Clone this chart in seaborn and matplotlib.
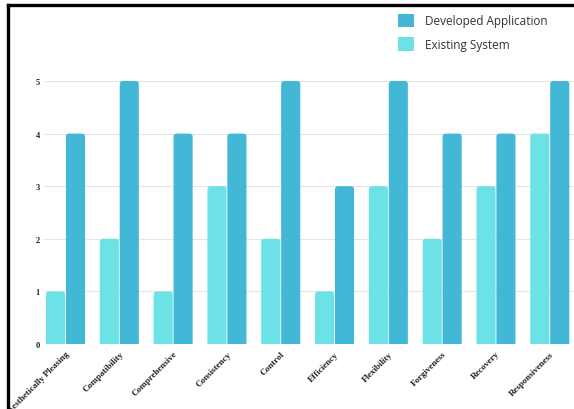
import matplotlib
matplotlib.use("Agg")
import matplotlib.pyplot as plt
import seaborn as sns
import pandas as pd
from matplotlib.patches import Patch, FancyBboxPatch
from matplotlib.lines import Line2D

categories = ["Aesthetically Pleasing", "Compatibility", "Comprehensive", "Consistency",
              "Control", "Efficiency", "Flexibility", "Forgiveness", "Recovery", "Responsiveness"]
existing = [1, 2, 1, 3, 2, 1, 3, 2, 3, 4]
developed = [4, 5, 4, 4, 5, 3, 5, 4, 4, 5]
series_names = ["Existing System", "Developed Application"]
yticks = [0, 1, 2, 3, 4, 5]

col_dev = "#42b7d6"
col_exi = "#6ce2e6"

df = pd.DataFrame({
    "cat": categories * 2,
    "val": existing + developed,
    "series": [series_names[0]] * len(categories) + [series_names[1]] * len(categories),
})

sns.set_theme(style="white")
fig = plt.figure(figsize=(5.74, 4.10), dpi=100)
ax = fig.add_axes([44 / 574, 1 - 345 / 410, 1 - 44 / 574, (345 - 82) / 410])

sns.barplot(data=df, x="cat", y="val", hue="series", hue_order=series_names,
            palette=[col_exi, col_dev], width=0.74, gap=0.04, ax=ax,
            legend=False, saturation=1, edgecolor="none")

ax.set_xlim(-0.4, 9.45)
ax.set_ylim(0, 5)

# round the bar tops
xpp = 9.85 / 530
ypp = 5 / 263
for p in list(ax.patches):
    x, w, h = p.get_x(), p.get_width(), p.get_height()
    fc = p.get_facecolor()
    p.set_visible(False)
    fb = FancyBboxPatch((x, -0.2), w, h + 0.2,
                        boxstyle=f"round,pad=0,rounding_size={3 * xpp}",
                        mutation_aspect=ypp / xpp, facecolor=fc, edgecolor="none",
                        zorder=2)
    ax.add_patch(fb)

ax.set_yticks(yticks)
ax.yaxis.grid(True, color="#e4e4e4", linewidth=0.8)
ax.set_axisbelow(True)
for s in ax.spines.values():
    s.set_visible(False)
ax.set_xlabel("")
ax.set_ylabel("")
ax.tick_params(axis="both", length=0)
ax.tick_params(axis="y", pad=3)
ax.set_yticklabels([str(t) for t in yticks], fontfamily="Liberation Serif",
                   fontweight="bold", fontsize=6, color="#222222")
ax.set_xticks(range(len(categories)))
ax.set_xticklabels(categories, rotation=45, ha="right", rotation_mode="anchor",
                   fontfamily="Liberation Serif", fontweight="bold", fontsize=6.5,
                   color="#222222")
ax.tick_params(axis="x", pad=4)

handles = [Patch(facecolor=col_dev, edgecolor="none"), Patch(facecolor=col_exi, edgecolor="none")]
leg = fig.legend(handles, ["Developed Application", "Existing System"],
                 loc="upper left", bbox_to_anchor=(387 / 574, 1 - 4 / 410),
                 frameon=False, prop={"family": "Open Sans", "size": 8.5},
                 handlelength=1.4, handleheight=1.4, labelspacing=0.85, handletextpad=0.9)
for t in leg.get_texts():
    t.set_color("#333333")

# black frame lines (left and top)
fig.add_artist(Line2D([8 / 574, 8 / 574], [0, 1 - 6 / 410], transform=fig.transFigure,
                      color="black", linewidth=2.4, solid_capstyle="projecting"))
fig.add_artist(Line2D([8 / 574, 1], [1 - 6 / 410, 1 - 6 / 410], transform=fig.transFigure,
                      color="black", linewidth=2.4, solid_capstyle="projecting"))

fig.savefig("out.png", dpi=100)
